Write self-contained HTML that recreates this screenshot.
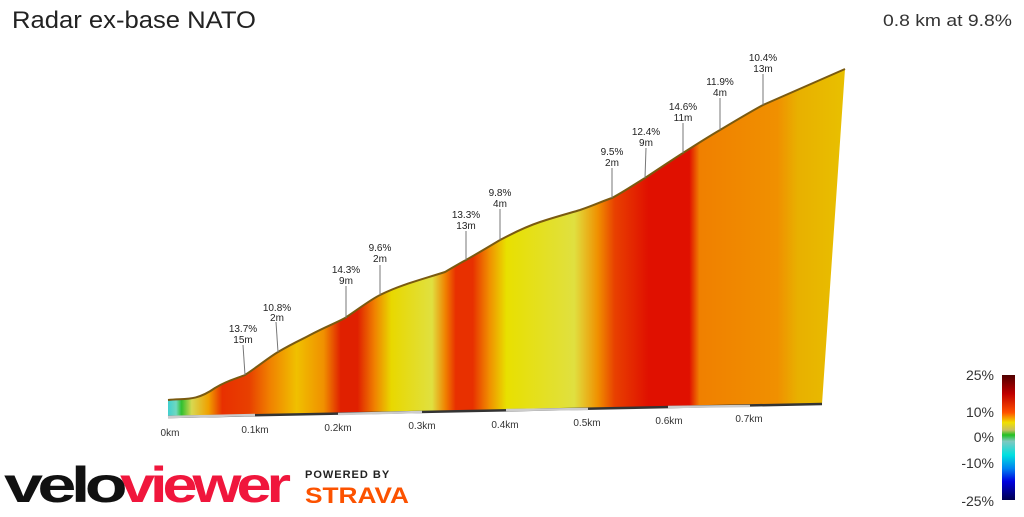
<!DOCTYPE html>
<html><head><meta charset="utf-8"><style>
body{margin:0;width:1024px;height:512px;background:#fff;overflow:hidden;font-family:"Liberation Sans",sans-serif}
</style></head><body>
<svg width="1024" height="512" viewBox="0 0 1024 512" xmlns="http://www.w3.org/2000/svg" font-family="Liberation Sans, sans-serif">
<defs>
<linearGradient id="g" x1="168" x2="845" y1="0" y2="0" gradientUnits="userSpaceOnUse">
<stop offset="0" stop-color="#40d0d0"/>
<stop offset="0.012" stop-color="#70d8c0"/>
<stop offset="0.02" stop-color="#30c030"/>
<stop offset="0.035" stop-color="#d8d850"/>
<stop offset="0.06" stop-color="#f0a000"/>
<stop offset="0.08" stop-color="#e83000"/>
<stop offset="0.12" stop-color="#e84000"/>
<stop offset="0.15" stop-color="#f08000"/>
<stop offset="0.19" stop-color="#f0c000"/>
<stop offset="0.23" stop-color="#f09000"/>
<stop offset="0.255" stop-color="#e02000"/>
<stop offset="0.28" stop-color="#e02000"/>
<stop offset="0.305" stop-color="#f08000"/>
<stop offset="0.33" stop-color="#e8d800"/>
<stop offset="0.39" stop-color="#e0e040"/>
<stop offset="0.41" stop-color="#f08000"/>
<stop offset="0.425" stop-color="#e83000"/>
<stop offset="0.45" stop-color="#e83000"/>
<stop offset="0.475" stop-color="#f09000"/>
<stop offset="0.5" stop-color="#e8e000"/>
<stop offset="0.6" stop-color="#e0e040"/>
<stop offset="0.635" stop-color="#f09000"/>
<stop offset="0.66" stop-color="#e84000"/>
<stop offset="0.71" stop-color="#e01000"/>
<stop offset="0.77" stop-color="#e01000"/>
<stop offset="0.785" stop-color="#f08000"/>
<stop offset="0.9" stop-color="#f09000"/>
<stop offset="0.93" stop-color="#e8b000"/>
<stop offset="1" stop-color="#e8c000"/>
</linearGradient>
<linearGradient id="lg" x1="0" x2="0" y1="0" y2="1">
<stop offset="0" stop-color="#500000"/>
<stop offset="0.15" stop-color="#c00000"/>
<stop offset="0.3" stop-color="#ff5000"/>
<stop offset="0.38" stop-color="#f0e000"/>
<stop offset="0.44" stop-color="#c8c060"/>
<stop offset="0.48" stop-color="#20c020"/>
<stop offset="0.53" stop-color="#80c8c0"/>
<stop offset="0.64" stop-color="#00e0e0"/>
<stop offset="0.75" stop-color="#0080f0"/>
<stop offset="0.85" stop-color="#0000e0"/>
<stop offset="1" stop-color="#000050"/>
</linearGradient>
</defs>
<text x="12" y="28" font-size="24" fill="#222" textLength="244" lengthAdjust="spacingAndGlyphs">Radar ex-base NATO</text>
<text x="1012" y="26" font-size="17" fill="#333" text-anchor="end" textLength="129" lengthAdjust="spacingAndGlyphs">0.8 km at 9.8%</text>
<path d="M168,400 C185,398 195,402 215,388 C228,380 238,378 245,375 C260,365 268,358 278,352 C295,342 305,338 310,335 C325,327 338,322 345,318 C360,308 370,300 380,295 C400,285 420,280 445,272 C452,268 460,263 466,260 C480,252 490,246 500,240 C515,232 528,226 540,222 C555,217 570,213 580,210 C595,205 605,200 612,198 C625,191 635,184 645,178 C660,168 672,160 683,153 C697,144 708,137 720,130 C735,121 750,112 763,105 L845,69 L822,404 L168,417 Z" fill="url(#g)"/>
<path d="M168,400 C185,398 195,402 215,388 C228,380 238,378 245,375 C260,365 268,358 278,352 C295,342 305,338 310,335 C325,327 338,322 345,318 C360,308 370,300 380,295 C400,285 420,280 445,272 C452,268 460,263 466,260 C480,252 490,246 500,240 C515,232 528,226 540,222 C555,217 570,213 580,210 C595,205 605,200 612,198 C625,191 635,184 645,178 C660,168 672,160 683,153 C697,144 708,137 720,130 C735,121 750,112 763,105 L845,69" fill="none" stroke="#7a5a10" stroke-width="2"/>
<path d="M168,417 L822,404" stroke="#333" stroke-width="2.5"/>
<path d="M168,417 L255,415 M338,414 L422,412 M506,410 L588,409 M668,407 L750,406" stroke="#ccc" stroke-width="2.5"/>
<g font-size="10" fill="#333" text-anchor="middle">
<text x="170" y="436">0km</text><text x="255" y="433">0.1km</text><text x="338" y="431">0.2km</text><text x="422" y="429">0.3km</text><text x="505" y="428">0.4km</text><text x="587" y="426">0.5km</text><text x="669" y="424">0.6km</text><text x="749" y="422">0.7km</text>
</g>
<g stroke="#777" stroke-width="1">
<line x1="243" y1="345" x2="245" y2="375"/><line x1="276" y1="322" x2="278" y2="352"/><line x1="346" y1="286" x2="346" y2="318"/><line x1="380" y1="265" x2="380" y2="295"/><line x1="466" y1="231" x2="466" y2="260"/><line x1="500" y1="209" x2="500" y2="240"/><line x1="612" y1="168" x2="612" y2="198"/><line x1="646" y1="148" x2="645" y2="178"/><line x1="683" y1="123" x2="683" y2="153"/><line x1="720" y1="98" x2="720" y2="130"/><line x1="763" y1="74" x2="763" y2="105"/>
</g>
<g font-size="10" fill="#222" text-anchor="middle">
<text x="243" y="332">13.7%</text><text x="243" y="343">15m</text>
<text x="277" y="311">10.8%</text><text x="277" y="321">2m</text>
<text x="346" y="273">14.3%</text><text x="346" y="284">9m</text>
<text x="380" y="251">9.6%</text><text x="380" y="262">2m</text>
<text x="466" y="218">13.3%</text><text x="466" y="229">13m</text>
<text x="500" y="196">9.8%</text><text x="500" y="207">4m</text>
<text x="612" y="155">9.5%</text><text x="612" y="166">2m</text>
<text x="646" y="135">12.4%</text><text x="646" y="146">9m</text>
<text x="683" y="110">14.6%</text><text x="683" y="121">11m</text>
<text x="720" y="85">11.9%</text><text x="720" y="96">4m</text>
<text x="763" y="61">10.4%</text><text x="763" y="72">13m</text>
</g>
<rect x="1002" y="375" width="13" height="125" fill="url(#lg)"/>
<g font-size="14" fill="#333" text-anchor="end">
<text x="994" y="380">25%</text><text x="994" y="417">10%</text><text x="994" y="442">0%</text><text x="994" y="468">-10%</text><text x="994" y="506">-25%</text>
</g>
<text x="4" y="502" font-size="50" font-weight="bold" letter-spacing="-4" fill="#111" textLength="118" lengthAdjust="spacingAndGlyphs">velo</text>
<text x="120" y="502" font-size="50" font-weight="bold" letter-spacing="-4" fill="#f0163c" textLength="166" lengthAdjust="spacingAndGlyphs">viewer</text>
<text x="305" y="478" font-size="11" font-weight="bold" fill="#222" letter-spacing="1">POWERED BY</text>
<text x="305" y="503" font-size="22" font-weight="bold" fill="#fc5200" textLength="104" lengthAdjust="spacingAndGlyphs">STRAVA</text>
</svg>
</body></html>
